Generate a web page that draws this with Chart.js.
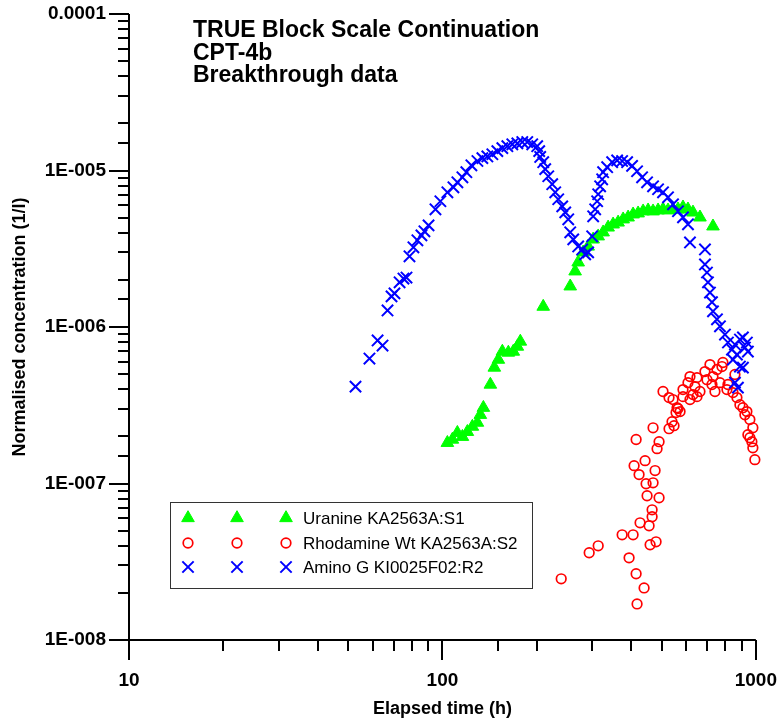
<!DOCTYPE html>
<html>
<head>
<meta charset="utf-8">
<title>TRUE Block Scale Continuation – CPT-4b</title>
<script src="https://cdn.jsdelivr.net/npm/chart.js@4.4.1/dist/chart.umd.min.js"></script>
<style>
  html, body { margin: 0; padding: 0; background: #ffffff; }
  canvas { display: block; }
</style>
</head>
<body>
<canvas id="chart" width="777" height="721"></canvas>
<script>
// ---- Breakthrough data: elapsed time (h) and normalised concentration (1/l) ----
const uranineTime = [103.7, 107.6, 111.6, 115.8, 120.1, 124.6, 129.3, 132.1, 135.1, 142.2,
  146.4, 150.8, 155.3, 162.3, 168.3, 173.4, 177.2, 209.7, 255.7, 265.1, 271.1, 281.2,
  291.7, 302.6, 314.0, 325.6, 337.8, 350.4, 363.5, 377.2, 391.2, 405.8, 421.0, 436.8,
  453.1, 469.9, 487.5, 505.6, 524.5, 544.1, 564.4, 585.5, 607.3, 630.1, 663.2, 729.8];
const uranineConc = [1.82e-7, 1.91e-7, 2.11e-7, 1.99e-7, 2.14e-7, 2.31e-7, 2.45e-7, 2.75e-7, 3.05e-7, 4.29e-7,
  5.51e-7, 6.19e-7, 6.97e-7, 6.87e-7, 6.97e-7, 7.50e-7, 8.08e-7, 1.35e-6, 1.82e-6, 2.27e-6, 2.59e-6, 3.00e-6,
  3.27e-6, 3.63e-6, 3.80e-6, 4.03e-6, 4.33e-6, 4.53e-6, 4.66e-6, 4.88e-6, 5.02e-6, 5.25e-6, 5.33e-6, 5.49e-6,
  5.57e-6, 5.49e-6, 5.57e-6, 5.65e-6, 5.57e-6, 5.65e-6, 5.65e-6, 5.82e-6, 5.65e-6, 5.40e-6, 5.02e-6, 4.40e-6];

const rhodamineTime = [239.3, 293.9, 314.0, 374.4, 394.0, 405.8, 408.8, 414.9, 414.9, 417.8,
  424.0, 427.1, 439.9, 443.1, 446.4, 449.7, 456.4, 459.8, 466.6, 466.6, 469.9, 469.9,
  476.9, 480.4, 483.9, 491.1, 491.1, 505.6, 528.4, 528.4, 540.1, 544.1, 548.1, 556.3,
  560.4, 564.4, 573.0, 585.5, 585.5, 607.3, 616.3, 616.3, 630.1, 639.3, 648.7, 648.7,
  663.2, 688.0, 698.2, 713.8, 724.4, 729.8, 740.4, 751.5, 768.2, 779.5, 785.0, 808.6,
  814.5, 845.2, 857.5, 870.1, 889.5, 909.3, 922.6, 936.2, 943.1, 957.0, 957.0, 971.2,
  978.2, 978.2, 992.7];
const rhodamineConc = [2.46e-8, 3.61e-8, 4.00e-8, 4.70e-8, 3.35e-8, 4.70e-8, 1.30e-7, 2.65e-8, 1.91e-7, 1.70e-8,
  1.14e-7, 5.61e-8, 2.15e-8, 1.40e-7, 9.96e-8, 8.35e-8, 5.37e-8, 4.06e-8, 6.13e-8, 6.79e-8, 1.01e-7, 2.27e-7,
  1.21e-7, 4.24e-8, 1.67e-7, 8.11e-8, 1.85e-7, 3.87e-7, 2.24e-7, 3.54e-7, 2.48e-7, 3.44e-7, 2.34e-7, 2.84e-7,
  3.05e-7, 3.01e-7, 2.88e-7, 3.98e-7, 3.59e-7, 4.41e-7, 3.44e-7, 4.82e-7, 3.70e-7, 4.16e-7, 4.75e-7, 3.59e-7,
  3.87e-7, 5.19e-7, 4.61e-7, 5.75e-7, 4.29e-7, 4.82e-7, 3.87e-7, 5.35e-7, 4.41e-7, 5.59e-7, 5.93e-7, 3.98e-7,
  4.29e-7, 3.81e-7, 4.97e-7, 3.54e-7, 3.19e-7, 3.05e-7, 2.75e-7, 2.88e-7, 2.05e-7, 2.56e-7, 1.96e-7, 1.85e-7,
  2.27e-7, 1.69e-7, 1.42e-7];

const aminoTime = [52.8, 58.5, 62.1, 64.4, 66.8, 68.8, 70.3, 73.0, 75.1, 76.8,
  78.5, 80.8, 83.2, 85.7, 87.6, 90.3, 95.0, 98.5, 103.7, 108.4,
  111.6, 115.8, 119.2, 123.7, 129.3, 134.1, 139.1, 144.3, 149.7, 155.3,
  161.1, 167.1, 173.4, 179.8, 186.5, 193.4, 200.6, 203.6, 205.1, 209.7,
  212.8, 217.6, 224.0, 229.0, 234.1, 241.1, 246.5, 252.0, 255.7, 261.4,
  271.1, 279.2, 285.4, 291.7, 300.4, 302.6, 307.1, 311.6, 314.0, 318.5,
  323.3, 325.6, 335.4, 347.9, 360.9, 374.4, 388.4, 402.8, 417.8, 433.5,
  449.7, 469.9, 487.5, 505.6, 524.5, 544.1, 564.4, 585.5, 607.3, 616.3,
  688.0, 688.0, 698.2, 703.4, 713.8, 724.4, 729.8, 751.5, 768.2, 796.9,
  814.5, 838.8, 845.0, 857.5, 857.5, 870.1, 876.5, 889.5, 889.5, 909.3,
  909.3, 922.6, 936.2, 943.1];
const aminoConc = [4.16e-7, 6.29e-7, 8.20e-7, 7.61e-7, 1.275e-6, 1.57e-6, 1.64e-6, 1.93e-6, 2.04e-6, 2.07e-6,
  2.83e-6, 3.23e-6, 3.58e-6, 3.85e-6, 4.09e-6, 4.46e-6, 5.65e-6, 6.36e-6, 7.26e-6, 7.81e-6,
  8.41e-6, 9.05e-6, 9.75e-6, 1.08e-5, 1.15e-5, 1.20e-5, 1.23e-5, 1.27e-5, 1.33e-5, 1.39e-5,
  1.43e-5, 1.47e-5, 1.49e-5, 1.52e-5, 1.52e-5, 1.47e-5, 1.43e-5, 1.33e-5, 1.22e-5, 1.13e-5,
  1.02e-5, 9.19e-6, 8.17e-6, 7.26e-6, 6.55e-6, 5.90e-6, 5.40e-6, 4.88e-6, 4.03e-6, 3.63e-6,
  3.27e-6, 3.13e-6, 2.91e-6, 3.00e-6, 3.80e-6, 5.10e-6, 5.65e-6, 6.36e-6, 7.05e-6, 7.93e-6,
  8.79e-6, 9.75e-6, 1.05e-5, 1.13e-5, 1.16e-5, 1.15e-5, 1.13e-5, 1.07e-5, 9.89e-6, 9.05e-6,
  8.41e-6, 7.93e-6, 7.59e-6, 7.26e-6, 6.74e-6, 6.08e-6, 5.49e-6, 5.02e-6, 4.53e-6, 3.47e-6,
  3.13e-6, 2.51e-6, 2.23e-6, 1.93e-6, 1.66e-6, 1.44e-6, 1.26e-6, 1.12e-6, 1.01e-6, 8.95e-7,
  7.96e-7, 7.18e-7, 6.19e-7, 7.73e-7, 4.41e-7, 6.67e-7, 4.10e-7, 8.32e-7, 5.59e-7, 8.57e-7,
  5.50e-7, 7.39e-7, 7.96e-7, 6.97e-7];

// ---- Labels ----
const seriesLabels = ['Uranine KA2563A:S1', 'Rhodamine Wt KA2563A:S2', 'Amino G KI0025F02:R2'];
const titleLines = ['TRUE Block Scale Continuation', 'CPT-4b', 'Breakthrough data'];
const xMajorValues = [10, 100, 1000];
const xTickLabels = ['10', '100', '1000'];
const yMajorValues = [1e-8, 1e-7, 1e-6, 1e-5, 1e-4];
const yTickLabels = ['1E-008', '1E-007', '1E-006', '1E-005', '0.0001'];
const xAxisTitle = 'Elapsed time (h)';
const yAxisTitle = 'Normalised concentration (1/l)';

const FONT = "'Liberation Sans', Arial, Helvetica, sans-serif";
const MAJOR_TICK = 20;
const MINOR_TICK = 11;

const toPoints = (xs, ys) => xs.map((x, i) => ({ x: x, y: ys[i] }));
const isDecade = v => Math.abs(Math.log10(v) - Math.round(Math.log10(v))) < 1e-6;
const labelFor = (majors, labels) => v => {
  const i = majors.findIndex(m => Math.abs(v / m - 1) < 1e-6);
  return i < 0 ? '' : labels[i];
};

// Axis lines with long decade ticks and short intermediate ticks, all outside the plot
const axisMarks = {
  id: 'axisMarks',
  afterDraw(chart) {
    const { ctx, chartArea: a, scales: { x, y } } = chart;
    ctx.save();
    ctx.strokeStyle = '#000000';
    ctx.lineWidth = 2;
    ctx.beginPath();
    ctx.moveTo(a.left, a.top);
    ctx.lineTo(a.left, a.bottom);
    ctx.moveTo(a.left, a.bottom);
    ctx.lineTo(a.right, a.bottom);
    x.ticks.forEach(t => {
      const px = Math.round(x.getPixelForValue(t.value));
      const len = isDecade(t.value) ? MAJOR_TICK : MINOR_TICK;
      ctx.moveTo(px, a.bottom);
      ctx.lineTo(px, a.bottom + len);
    });
    y.ticks.forEach(t => {
      const py = Math.round(y.getPixelForValue(t.value));
      const len = isDecade(t.value) ? MAJOR_TICK : MINOR_TICK;
      ctx.moveTo(a.left, py);
      ctx.lineTo(a.left - len, py);
    });
    ctx.stroke();
    ctx.restore();
  }
};

// Three-line heading inside the plot
const headingText = {
  id: 'headingText',
  afterDraw(chart) {
    const ctx = chart.ctx;
    ctx.save();
    ctx.fillStyle = '#000000';
    ctx.font = 'bold 23px ' + FONT;
    ctx.textAlign = 'left';
    ctx.textBaseline = 'alphabetic';
    titleLines.forEach((s, i) => ctx.fillText(s, 193, 37 + i * 22.5));
    ctx.restore();
  }
};

// Boxed legend: each symbol repeated three times, then the series name
function marker(ctx, ds, px, py) {
  ctx.save();
  ctx.lineWidth = ds.borderWidth;
  ctx.strokeStyle = ds.borderColor;
  ctx.fillStyle = ds.backgroundColor;
  if (Chart.helpers && Chart.helpers.drawPoint) {
    Chart.helpers.drawPoint(ctx, {
      pointStyle: ds.pointStyle, radius: ds.pointRadius,
      borderWidth: ds.borderWidth, rotation: 0
    }, px, py);
  } else {
    const r = ds.pointRadius;
    ctx.beginPath();
    if (ds.pointStyle === 'triangle') {
      ctx.moveTo(px, py - r);
      ctx.lineTo(px + 0.866 * r, py + 0.5 * r);
      ctx.lineTo(px - 0.866 * r, py + 0.5 * r);
      ctx.closePath();
      ctx.fill();
      ctx.stroke();
    } else if (ds.pointStyle === 'circle') {
      ctx.arc(px, py, r, 0, Math.PI * 2);
      ctx.stroke();
    } else {
      const o = 0.7071 * r;
      ctx.moveTo(px - o, py - o); ctx.lineTo(px + o, py + o);
      ctx.moveTo(px + o, py - o); ctx.lineTo(px - o, py + o);
      ctx.stroke();
    }
  }
  ctx.restore();
}

const boxLegend = {
  id: 'boxLegend',
  afterDraw(chart) {
    const ctx = chart.ctx;
    ctx.save();
    ctx.fillStyle = '#ffffff';
    ctx.fillRect(170, 502, 362, 86);
    ctx.strokeStyle = '#333333';
    ctx.lineWidth = 1;
    ctx.strokeRect(170.5, 502.5, 362, 86);
    const rows = [518, 543, 567];
    chart.data.datasets.forEach((ds, i) => {
      [188, 237, 286].forEach(px => marker(ctx, ds, px, rows[i]));
      ctx.fillStyle = '#000000';
      ctx.font = '17px ' + FONT;
      ctx.textAlign = 'left';
      ctx.textBaseline = 'middle';
      ctx.fillText(ds.label, 303, rows[i] + 1);
    });
    ctx.restore();
  }
};

new Chart(document.getElementById('chart'), {
  type: 'scatter',
  data: {
    datasets: [
      {
        label: seriesLabels[0],
        data: toPoints(uranineTime, uranineConc),
        pointStyle: 'triangle', pointRadius: 7.3, borderWidth: 1,
        backgroundColor: '#00ff00', borderColor: '#00ff00',
        order: 2, clip: false
      },
      {
        label: seriesLabels[1],
        data: toPoints(rhodamineTime, rhodamineConc),
        pointStyle: 'circle', pointRadius: 4.8, borderWidth: 1.7,
        backgroundColor: 'rgba(0,0,0,0)', borderColor: '#ff0000',
        order: 1, clip: false
      },
      {
        label: seriesLabels[2],
        data: toPoints(aminoTime, aminoConc),
        pointStyle: 'crossRot', pointRadius: 8, borderWidth: 2,
        backgroundColor: '#0000ff', borderColor: '#0000ff',
        order: 0, clip: false
      }
    ]
  },
  options: {
    responsive: false,
    maintainAspectRatio: false,
    devicePixelRatio: 1,
    animation: false,
    events: [],
    layout: { padding: { left: 0, right: 21, top: 14, bottom: 0 } },
    plugins: {
      legend: { display: false },
      tooltip: { enabled: false },
      title: { display: false }
    },
    scales: {
      x: {
        type: 'logarithmic',
        position: 'bottom',
        min: 10,
        max: 1000,
        border: { display: false },
        grid: { display: true, drawOnChartArea: false, drawTicks: true, tickLength: 29, color: 'rgba(0,0,0,0)' },
        ticks: {
          autoSkip: false, maxRotation: 0, minRotation: 0, padding: 0,
          color: '#000000', font: { family: FONT, size: 19, weight: 'bold' },
          callback: labelFor(xMajorValues, xTickLabels)
        },
        title: {
          display: true, text: xAxisTitle, color: '#000000',
          font: { family: FONT, size: 18, weight: 'bold' },
          padding: { top: 0, bottom: 1 }
        },
        afterFit: s => { s.height = 81; }
      },
      y: {
        type: 'logarithmic',
        position: 'left',
        min: 1e-8,
        max: 1e-4,
        border: { display: false },
        grid: { display: true, drawOnChartArea: false, drawTicks: true, tickLength: 23, color: 'rgba(0,0,0,0)' },
        ticks: {
          autoSkip: false, padding: 0,
          color: '#000000', font: { family: FONT, size: 19, weight: 'bold' },
          callback: labelFor(yMajorValues, yTickLabels)
        },
        title: {
          display: true, text: yAxisTitle, color: '#000000',
          font: { family: FONT, size: 18, weight: 'bold' },
          padding: { top: 9, bottom: 0 }
        },
        afterFit: s => { s.width = 129; }
      }
    }
  },
  plugins: [axisMarks, headingText, boxLegend]
});
</script>
</body>
</html>
